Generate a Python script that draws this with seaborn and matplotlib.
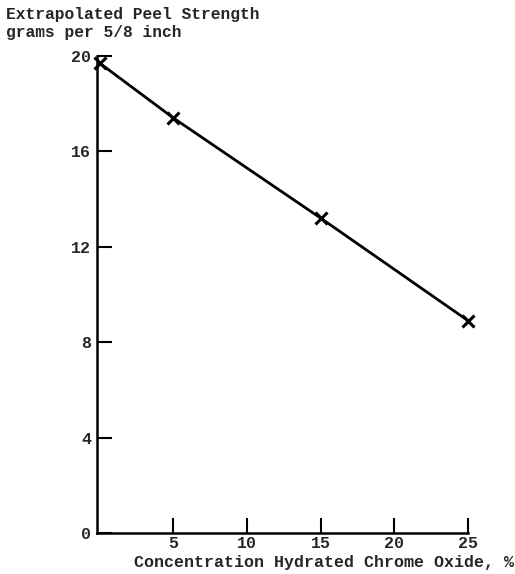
import matplotlib
matplotlib.use("Agg")
import matplotlib.pyplot as plt
import seaborn as sns

# values
concentration = [0, 5, 15, 25]
peel_strength = [19.7, 17.4, 13.2, 8.9]
x_ticks = [5, 10, 15, 20, 25]
y_ticks = [0, 4, 8, 12, 16, 20]

sns.set_style("ticks")
plt.rcParams['font.family'] = ['Liberation Mono', 'DejaVu Sans']

fig = plt.figure(figsize=(5.15, 5.74), dpi=100)
ax = fig.add_axes([0.188, 0.0714, 0.721, 0.831])

sns.lineplot(x=concentration, y=peel_strength, ax=ax, color='black',
             linewidth=2, marker='x', markersize=9, markeredgewidth=2.2,
             markeredgecolor='black')
for ln in ax.lines:
    ln.set_clip_on(False)

ax.set_xlim(-0.2, 25)
ax.set_ylim(0, 20)
ax.set_xticks(x_ticks)
ax.set_yticks(y_ticks)
ax.set_xticklabels([str(t) for t in x_ticks], fontsize=12, fontweight='bold')
ax.set_yticklabels([str(t) for t in y_ticks], fontsize=12, fontweight='bold')
ax.tick_params(axis='both', direction='in', length=11, width=1.5, color='black')
ax.tick_params(axis='x', pad=2)
ax.tick_params(axis='y', pad=4)
for s in ['top', 'right']:
    ax.spines[s].set_visible(False)
for s in ['left', 'bottom']:
    ax.spines[s].set_linewidth(1.8)
    ax.spines[s].set_color('black')
ax.set_xlabel('')
ax.set_ylabel('')

fig.text(0.012, 0.988, 'Extrapolated Peel Strength\ngrams per 5/8 inch',
         fontsize=11.7, fontweight='bold', va='top', ha='left', linespacing=1.25)
fig.text(0.999, 0.02, 'Concentration Hydrated Chrome Oxide, %',
         fontsize=12, fontweight='bold', va='center', ha='right')

fig.savefig('out.png', dpi=100)
